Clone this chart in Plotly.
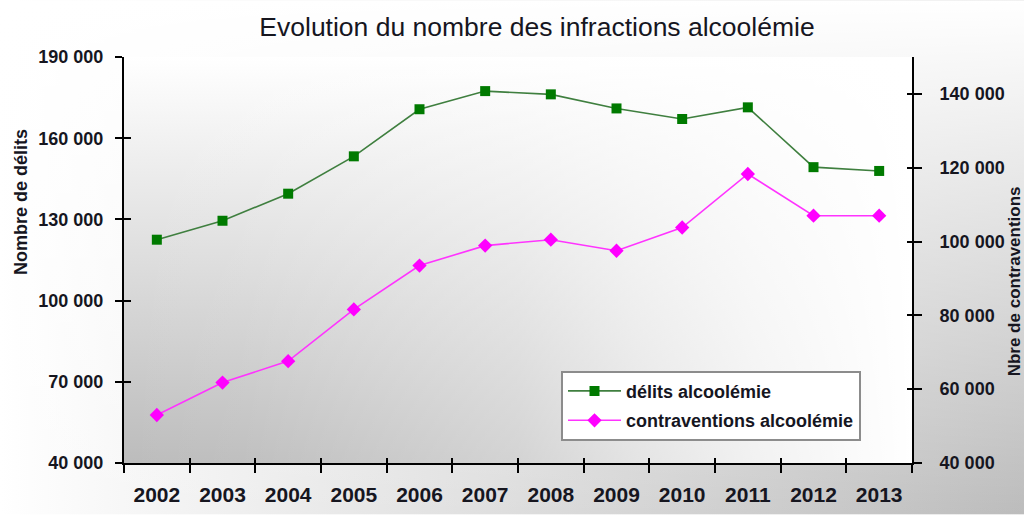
import base64
import plotly.graph_objects as go

years = ["2002", "2003", "2004", "2005", "2006", "2007", "2008", "2009", "2010", "2011", "2012", "2013"]
delits = [122500, 129500, 139500, 153300, 170700, 177400, 176200, 171000, 167100, 171400, 149300, 147900]
contraventions = [53000, 61800, 67600, 81600, 93500, 98900, 100500, 97500, 103800, 118300, 107000, 107000]

left_ticks = [40000, 70000, 100000, 130000, 160000, 190000]
right_ticks = [40000, 60000, 80000, 100000, 120000, 140000]
left_range = [40000, 190000]
right_range = [40000, 150000]


def fmt(v):
    return f"{v:,}".replace(",", " ")


def svg_uri(svg):
    return "data:image/svg+xml;base64," + base64.b64encode(svg.encode()).decode()


SVG_HEAD = ('<svg xmlns="http://www.w3.org/2000/svg" width="100" height="100" '
            'viewBox="0 0 100 100" preserveAspectRatio="none">')

# outer background: darkens towards the bottom-right corner
outer_svg = (
    SVG_HEAD +
    '<defs>'
    '<linearGradient id="h" x1="0" y1="0" x2="1" y2="0">'
    '<stop offset="0" stop-color="#ffffff"/><stop offset="1" stop-color="#bcbcbc"/></linearGradient>'
    '<linearGradient id="v" x1="0" y1="0" x2="0" y2="1">'
    '<stop offset="0" stop-color="#ffffff" stop-opacity="1"/>'
    '<stop offset="1" stop-color="#ffffff" stop-opacity="0"/></linearGradient>'
    '</defs>'
    '<rect x="0" y="0" width="100" height="100" fill="url(#h)"/>'
    '<rect x="0" y="0" width="100" height="100" fill="url(#v)"/></svg>'
)
# plot area: darkens towards the bottom-left corner
plot_svg = (
    SVG_HEAD +
    '<defs>'
    '<linearGradient id="pv" x1="0" y1="0" x2="0" y2="1">'
    '<stop offset="0" stop-color="#ffffff"/><stop offset="1" stop-color="#bcbcbc"/></linearGradient>'
    '<linearGradient id="ph" x1="0" y1="0" x2="1" y2="0">'
    '<stop offset="0" stop-color="#ffffff" stop-opacity="0"/>'
    '<stop offset="0.15" stop-color="#ffffff" stop-opacity="0.05"/>'
    '<stop offset="0.5" stop-color="#ffffff" stop-opacity="0.35"/>'
    '<stop offset="0.65" stop-color="#ffffff" stop-opacity="0.6"/>'
    '<stop offset="0.8" stop-color="#ffffff" stop-opacity="0.8"/>'
    '<stop offset="1" stop-color="#ffffff" stop-opacity="1"/></linearGradient>'
    '</defs>'
    '<rect x="0" y="0" width="100" height="100" fill="url(#pv)"/>'
    '<rect x="0" y="0" width="100" height="100" fill="url(#ph)"/></svg>'
)

W, H = 1024, 518
L, R, T, B = 124, 112, 57, 52
PW, PH = W - L - R, H - T - B

FONT = "Liberation Sans, Arial, sans-serif"
TXT = "#16161f"

fig = go.Figure()
fig.add_trace(go.Scatter(
    x=years, y=delits, name="délits alcoolémie", mode="lines+markers",
    line=dict(color="#3f7f3f", width=1.6),
    marker=dict(symbol="square", size=10, color="#007a00", line=dict(width=0)),
    legendgroup="a", xaxis="x", yaxis="y",
))
fig.add_trace(go.Scatter(
    x=years, y=contraventions, name="contraventions alcoolémie", mode="lines+markers",
    line=dict(color="#ff33ff", width=1.6),
    marker=dict(symbol="diamond", size=11, color="#ff00ff", line=dict(width=0)),
    legendgroup="b", xaxis="x", yaxis="y2",
))
# helper traces so the inner-tick overlay axes are drawn
fig.add_trace(go.Scatter(x=years, y=[None] * len(years), xaxis="x2", yaxis="y3",
                         showlegend=False, hoverinfo="skip", mode="lines"))
fig.add_trace(go.Scatter(x=years, y=[None] * len(years), xaxis="x", yaxis="y4",
                         showlegend=False, hoverinfo="skip", mode="lines"))

tickfont = dict(family=FONT, size=18, color=TXT, weight="bold")

fig.update_layout(
    width=W, height=H,
    margin=dict(l=L, r=R, t=T, b=B),
    paper_bgcolor="white",
    plot_bgcolor="rgba(0,0,0,0)",
    showlegend=True,
    title=dict(text="Evolution du nombre des infractions alcoolémie",
               font=dict(family=FONT, size=26.5, color=TXT),
               x=537 / W, xref="container", xanchor="center",
               y=1 - 27 / H, yref="container", yanchor="middle"),
    xaxis=dict(type="category", categoryorder="array", categoryarray=years,
               range=[-0.5, len(years) - 0.5], tickson="boundaries",
               ticks="outside", ticklen=8, tickwidth=1.5, tickcolor="black",
               showline=True, linecolor="black", linewidth=2,
               showgrid=False, zeroline=False, ticklabelstandoff=12,
               tickfont=dict(family=FONT, size=21, color=TXT, weight="bold")),
    xaxis2=dict(type="category", categoryorder="array", categoryarray=years,
                range=[-0.5, len(years) - 0.5], tickson="boundaries",
                overlaying="x", side="bottom", anchor="y",
                ticks="inside", ticklen=5, tickwidth=1.5, tickcolor="black",
                showticklabels=False, showline=False, showgrid=False, zeroline=False),
    yaxis=dict(range=left_range, tickvals=left_ticks, ticktext=[fmt(v) for v in left_ticks],
               ticks="outside", ticklen=7, tickwidth=1.5, tickcolor="black",
               showline=True, linecolor="black", linewidth=2,
               showgrid=False, zeroline=False, ticklabelstandoff=8, tickfont=tickfont),
    yaxis3=dict(range=left_range, tickvals=left_ticks, overlaying="y", side="left", anchor="x2",
                ticks="inside", ticklen=7, tickwidth=1.5, tickcolor="black",
                showticklabels=False, showline=False, showgrid=False, zeroline=False),
    yaxis2=dict(range=right_range, tickvals=right_ticks, ticktext=[fmt(v) for v in right_ticks],
                overlaying="y", side="right", anchor="x",
                ticks="outside", ticklen=8, tickwidth=1.5, tickcolor="black",
                showline=True, linecolor="black", linewidth=2,
                showgrid=False, zeroline=False, ticklabelstandoff=14, tickfont=tickfont),
    yaxis4=dict(range=right_range, tickvals=right_ticks, overlaying="y", side="right", anchor="x",
                ticks="inside", ticklen=5, tickwidth=1.5, tickcolor="black",
                showticklabels=False, showline=False, showgrid=False, zeroline=False),
    legend=dict(x=(561 - L) / PW, y=(H - B - 373) / PH, xanchor="left", yanchor="top",
                bgcolor="white", bordercolor="#8c8c8c", borderwidth=2,
                font=dict(family=FONT, size=18, color=TXT, weight="bold"),
                itemwidth=53,
                traceorder="grouped", tracegroupgap=3),
    images=[
        dict(source=svg_uri(outer_svg), xref="paper", yref="paper",
             x=-L / PW, y=1 + T / PH, sizex=W / PW, sizey=H / PH,
             sizing="stretch", xanchor="left", yanchor="top", layer="below"),
        dict(source=svg_uri(plot_svg), xref="paper", yref="paper",
             x=0, y=1, sizex=1, sizey=1,
             sizing="stretch", xanchor="left", yanchor="top", layer="below"),
    ],
    annotations=[
        dict(text="Nombre de délits", textangle=-90, showarrow=False,
             xref="paper", yref="paper", x=(21 - L) / PW, y=(H - B - 203) / PH,
             xanchor="center", yanchor="middle",
             font=dict(family=FONT, size=18, color=TXT, weight="bold")),
        dict(text="Nbre de contraventions", textangle=-90, showarrow=False,
             xref="paper", yref="paper", x=(1014 - L) / PW, y=(H - B - 283) / PH,
             xanchor="center", yanchor="middle",
             font=dict(family=FONT, size=17, color=TXT, weight="bold")),
    ],
)

fig.write_html("out.html",
               config={"displayModeBar": False},
               post_script="document.body.style.margin='0';document.body.style.padding='0';")
